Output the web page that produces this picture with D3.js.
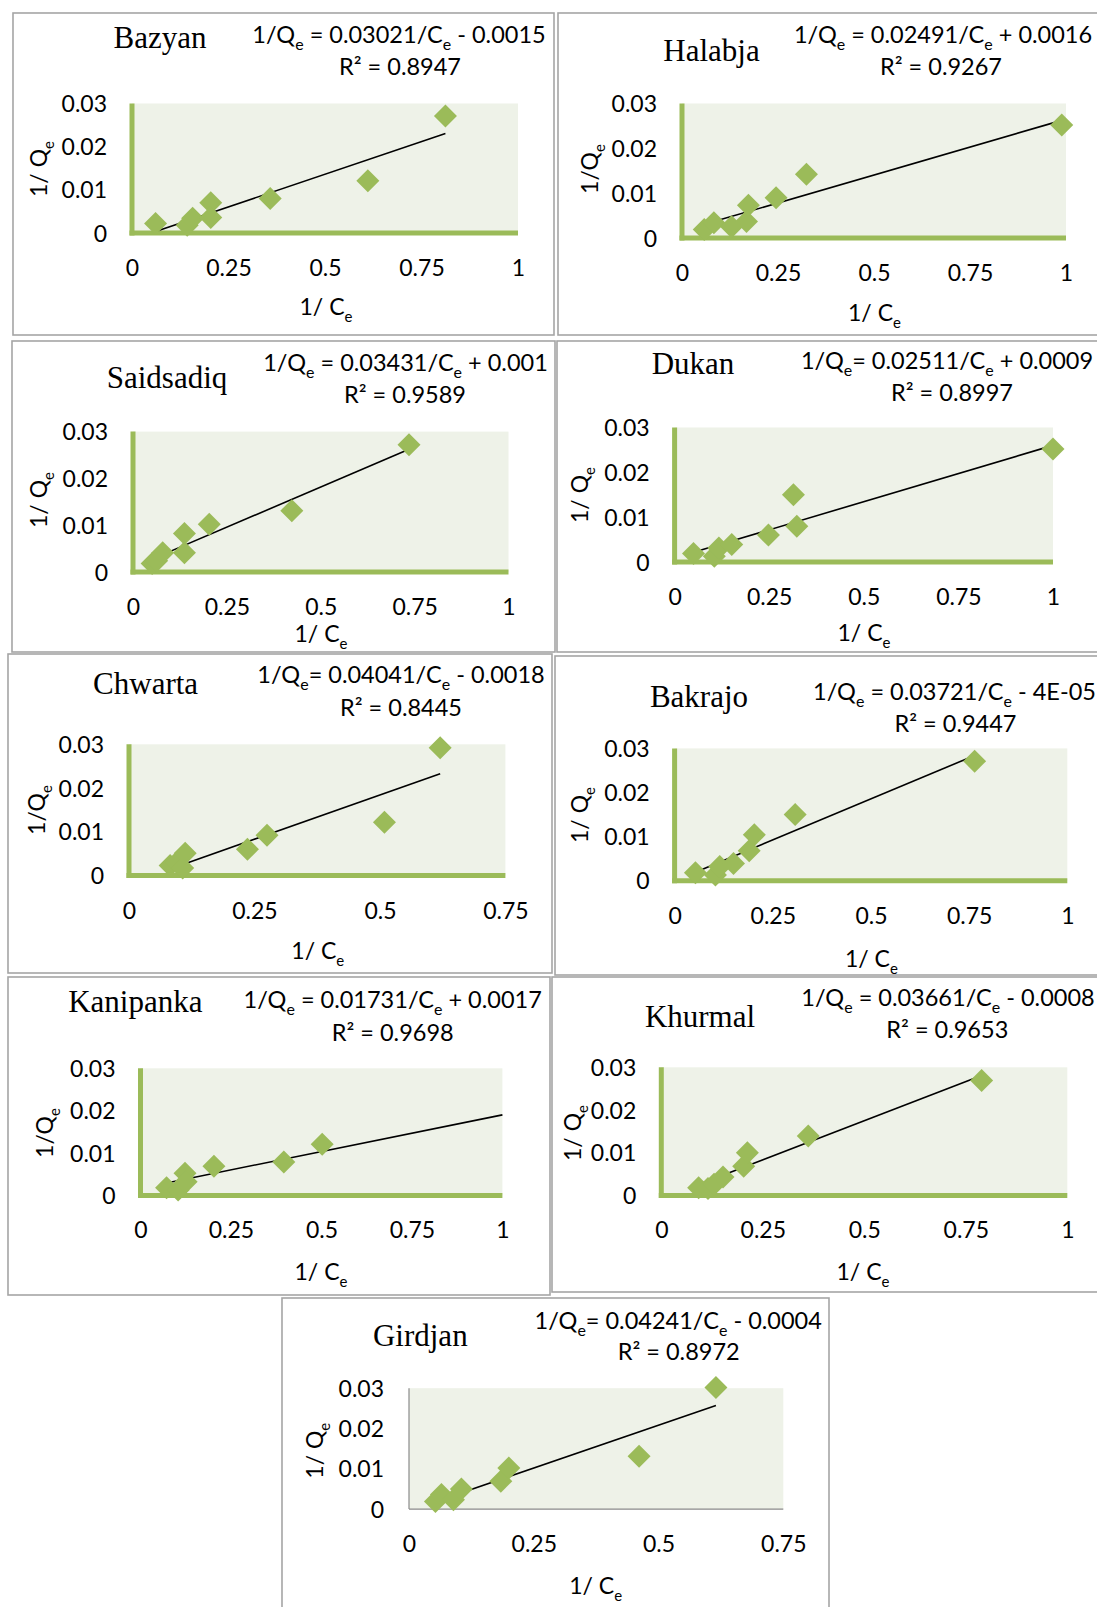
<!DOCTYPE html>
<html>
<head>
<meta charset="utf-8">
<script src="https://cdn.jsdelivr.net/npm/d3@7"></script>
<style>
  html, body { margin: 0; padding: 0; background: #ffffff; }
  svg { display: block; }
  .tick text { font-family: Lato, "Open Sans", sans-serif; fill: #000; }
</style>
</head>
<body>
<svg id="chart" width="1097" height="1607"></svg>
<script>
// Linearised Langmuir isotherms (1/Qe against 1/Ce) for nine soil sites.

const sites = ["Bazyan", "Halabja", "Saidsadiq", "Dukan", "Chwarta", "Bakrajo", "Kanipanka", "Khurmal", "Girdjan"];

// Fitted trendlines: 1/Qe = slope / Ce + intercept
const slopes = [0.03021, 0.02491, 0.03431, 0.02511, 0.04041, 0.03721, 0.01731, 0.03661, 0.04241];
const intercepts = [-0.0015, 0.0016, 0.001, 0.0009, -0.0018, -0.00004, 0.0017, -0.0008, -0.0004];
const interceptLabels = ["- 0.0015", "+ 0.0016", "+ 0.001", "+ 0.0009", "- 0.0018", "- 4E-05", "+ 0.0017", "- 0.0008", "- 0.0004"];
const equalsSigns = [" = ", " = ", " = ", "= ", "= ", " = ", " = ", " = ", "= "];
const r2Labels = ["0.8947", "0.9267", "0.9589", "0.8997", "0.8445", "0.9447", "0.9698", "0.9653", "0.8972"];

// Measured points per site
const invCe = [
  [0.061, 0.143, 0.157, 0.204, 0.204, 0.358, 0.611, 0.812],
  [0.058, 0.083, 0.129, 0.168, 0.173, 0.245, 0.324, 0.989],
  [0.051, 0.063, 0.079, 0.137, 0.137, 0.203, 0.423, 0.735],
  [0.050, 0.105, 0.117, 0.151, 0.248, 0.323, 0.314, 1.000],
  [0.082, 0.095, 0.107, 0.112, 0.236, 0.275, 0.509, 0.620],
  [0.053, 0.104, 0.115, 0.150, 0.190, 0.203, 0.307, 0.764],
  [0.072, 0.104, 0.123, 0.126, 0.203, 0.396, 0.502],
  [0.092, 0.115, 0.130, 0.152, 0.203, 0.212, 0.362, 0.789],
  [0.053, 0.065, 0.089, 0.105, 0.184, 0.200, 0.461, 0.615]
];
const invQe = [
  [0.0022, 0.0018, 0.0034, 0.0070, 0.0036, 0.0080, 0.0121, 0.0271],
  [0.0019, 0.0034, 0.0025, 0.0037, 0.0073, 0.0090, 0.0142, 0.0252],
  [0.0018, 0.0024, 0.0041, 0.0041, 0.0082, 0.0102, 0.0131, 0.0272],
  [0.0019, 0.0013, 0.0031, 0.0039, 0.0060, 0.0080, 0.0150, 0.0252],
  [0.0023, 0.0030, 0.0017, 0.0051, 0.0060, 0.0092, 0.0122, 0.0292],
  [0.0018, 0.0013, 0.0032, 0.0039, 0.0068, 0.0104, 0.0150, 0.0271],
  [0.0018, 0.0013, 0.0052, 0.0032, 0.0069, 0.0079, 0.0121],
  [0.0018, 0.0016, 0.0026, 0.0043, 0.0068, 0.0100, 0.0139, 0.0269],
  [0.0019, 0.0036, 0.0023, 0.0050, 0.0069, 0.0102, 0.0131, 0.0302]
];

// Axis extents and labels
const xMax = [1, 1, 1, 1, 0.75, 1, 1, 1, 0.75];
const yMax = 0.03;
const trendForecastTo = [null, null, null, null, null, null, 1, null, null];
const xTickValues = [0, 0.25, 0.5, 0.75, 1];
const xTickLabels = ["0", "0.25", "0.5", "0.75", "1"];
const yTickValues = [0, 0.01, 0.02, 0.03];
const yTickLabels = ["0", "0.01", "0.02", "0.03"];
const yTitleStems = ["1/ Q", "1/Q", "1/ Q", "1/ Q", "1/Q", "1/ Q", "1/Q", "1/ Q", "1/ Q"];
const xTitleStem = "1/ C";
const greenAxes = [true, true, true, true, true, true, true, true, false];

// Page placement of each panel (frame, plot rectangle, text anchors)
const panelLayout = [
  { box: [13, 13, 541, 322],  plot: [132, 518, 103.5, 233],     title: [160, 48],    eq: [399, 43],     r2: [400, 75],     xt: [326, 307],    yt: [39, 169] },
  { box: [558, 13, 541, 322], plot: [682, 1066, 103.5, 238],    title: [711.5, 61],  eq: [943, 43],     r2: [941, 75],     xt: [874.5, 312.7], yt: [589.5, 169] },
  { box: [12, 341, 543, 311], plot: [133, 508.5, 431.6, 572],   title: [167, 388],   eq: [405.5, 371],  r2: [405, 403],    xt: [321, 634],    yt: [39, 500] },
  { box: [557, 341, 541, 311], plot: [674.6, 1053, 427.5, 562], title: [693, 374],   eq: [947, 369],    r2: [952, 400.5],  xt: [864, 632.6],  yt: [580, 495] },
  { box: [8, 654, 544, 319],  plot: [129, 505.4, 744.3, 875.5], title: [145.6, 694], eq: [401, 683],    r2: [401, 715.5],  xt: [317.8, 950.5], yt: [37, 810] },
  { box: [555, 656, 543, 319], plot: [674.6, 1067.3, 748.4, 880.7], title: [699, 707], eq: [954.5, 700.2], r2: [955.5, 732], xt: [871.4, 958.6], yt: [580, 815] },
  { box: [8, 977, 542, 318],  plot: [140.5, 502.4, 1068.3, 1195.4], title: [135.3, 1012], eq: [392.7, 1008], r2: [392.7, 1040.5], xt: [321, 1272.3], yt: [45, 1133] },
  { box: [552, 977, 546, 315], plot: [661.3, 1067.3, 1067.3, 1195.4], title: [700, 1026.5], eq: [948, 1006], r2: [947.3, 1038], xt: [863, 1272.3], yt: [573, 1133] },
  { box: [282, 1298, 547, 315], plot: [409, 783.3, 1388.2, 1509.1], title: [420.3, 1346], eq: [678.2, 1328.5], r2: [678.7, 1360.2], xt: [595.7, 1586], yt: [314.7, 1450.7] }
];

const GREEN = "#9bbb59";
const PLOT_BG = "#eef2e8";
const SANS = "Lato, 'Open Sans', sans-serif";
const SERIF = "'Liberation Serif', 'Times New Roman', serif";

const svg = d3.select("#chart");

// Writes text made of normal and subscript runs into a <text> element
function richText(textSel, parts, size) {
  const subSize = Math.round(size * 0.66);
  const shift = Math.round(size * 0.3);
  let lowered = false;
  parts.forEach(([str, sub]) => {
    const ts = textSel.append("tspan").text(str);
    if (sub) {
      ts.attr("font-size", subSize).attr("dy", lowered ? 0 : shift);
      lowered = true;
    } else {
      ts.attr("font-size", size);
      if (lowered) { ts.attr("dy", -shift); lowered = false; }
    }
  });
}

function diamond(r) {
  return `M0,${-r}L${r},0L0,${r}L${-r},0Z`;
}

sites.forEach((site, i) => {
  const L = panelLayout[i];
  const g = svg.append("g").attr("class", "panel");

  // Frame round the panel
  g.append("rect")
    .attr("x", L.box[0]).attr("y", L.box[1])
    .attr("width", L.box[2]).attr("height", L.box[3])
    .attr("fill", "none").attr("stroke", "#a5a5a5").attr("stroke-width", 1.6);

  const x = d3.scaleLinear().domain([0, xMax[i]]).range([L.plot[0], L.plot[1]]);
  const y = d3.scaleLinear().domain([0, yMax]).range([L.plot[3], L.plot[2]]);

  // Shaded plot area
  g.append("rect")
    .attr("x", x(0)).attr("y", y(yMax))
    .attr("width", x(xMax[i]) - x(0)).attr("height", y(0) - y(yMax))
    .attr("fill", PLOT_BG);

  const xVals = xTickValues.filter(v => v <= xMax[i] + 1e-9);
  const xAxis = d3.axisBottom(x)
    .tickValues(xVals)
    .tickFormat(d => xTickLabels[xTickValues.indexOf(d)])
    .tickSize(0).tickSizeOuter(0);
  const yAxis = d3.axisLeft(y)
    .tickValues(yTickValues)
    .tickFormat(d => yTickLabels[yTickValues.indexOf(d)])
    .tickSize(0).tickSizeOuter(0).tickPadding(25);

  const axisColor = greenAxes[i] ? GREEN : "#8a8a8a";
  const axisWidth = greenAxes[i] ? 5 : 1.2;

  const gx = g.append("g").attr("transform", `translate(0,${y(0)})`).call(xAxis);
  gx.select(".domain").attr("stroke", axisColor).attr("stroke-width", axisWidth)
    .attr("d", `M${x(0) - (greenAxes[i] ? 2.5 : 0)},0H${x(xMax[i])}`);
  gx.selectAll(".tick text")
    .attr("y", 35).attr("dy", "0.35em")
    .attr("font-size", 23).attr("font-family", SANS).attr("fill", "#000");

  const gy = g.append("g").attr("transform", `translate(${x(0)},0)`).call(yAxis);
  gy.select(".domain").attr("stroke", axisColor).attr("stroke-width", axisWidth)
    .attr("d", `M0,${y(0) + (greenAxes[i] ? 2.5 : 0)}V${y(yMax)}`);
  gy.selectAll(".tick text")
    .attr("dy", "0.35em")
    .attr("font-size", 23).attr("font-family", SANS).attr("fill", "#000");

  // Linear trendline from the fitted equation
  const xs = invCe[i];
  const tStart = d3.min(xs);
  const tEnd = trendForecastTo[i] != null ? trendForecastTo[i] : d3.max(xs);
  const line = d3.line().x(d => x(d)).y(d => y(slopes[i] * d + intercepts[i]));
  g.append("path")
    .datum([tStart, tEnd])
    .attr("d", line)
    .attr("fill", "none").attr("stroke", "#000").attr("stroke-width", 1.6);

  // Data markers
  g.append("g").selectAll("path")
    .data(xs.map((v, k) => [v, invQe[i][k]]))
    .join("path")
    .attr("d", diamond(11.5))
    .attr("transform", d => `translate(${x(d[0])},${y(d[1])})`)
    .attr("fill", GREEN);

  // Site name
  g.append("text")
    .attr("x", L.title[0]).attr("y", L.title[1])
    .attr("text-anchor", "middle")
    .attr("font-family", SERIF).attr("font-size", 31).attr("fill", "#000")
    .text(site);

  // Trendline equation and R²
  const eqText = g.append("text")
    .attr("x", L.eq[0]).attr("y", L.eq[1])
    .attr("text-anchor", "middle")
    .attr("font-family", SANS).attr("fill", "#000");
  richText(eqText, [
    ["1/Q", false], ["e", true],
    [equalsSigns[i] + slopes[i].toString() + "/C", false], ["e", true],
    [" " + interceptLabels[i], false]
  ], 23.5);

  g.append("text")
    .attr("x", L.r2[0]).attr("y", L.r2[1])
    .attr("text-anchor", "middle")
    .attr("font-family", SANS).attr("font-size", 23.5).attr("fill", "#000")
    .text("R\u00b2 = " + r2Labels[i]);

  // Axis titles
  const xTitle = g.append("text")
    .attr("x", L.xt[0]).attr("y", L.xt[1] + 8)
    .attr("text-anchor", "middle")
    .attr("font-family", SANS).attr("fill", "#000");
  richText(xTitle, [[xTitleStem, false], ["e", true]], 23);

  const yTitle = g.append("text")
    .attr("transform", `translate(${L.yt[0] + 8},${L.yt[1]}) rotate(-90)`)
    .attr("text-anchor", "middle")
    .attr("font-family", SANS).attr("fill", "#000");
  richText(yTitle, [[yTitleStems[i], false], ["e", true]], 23);
});
</script>
</body>
</html>
